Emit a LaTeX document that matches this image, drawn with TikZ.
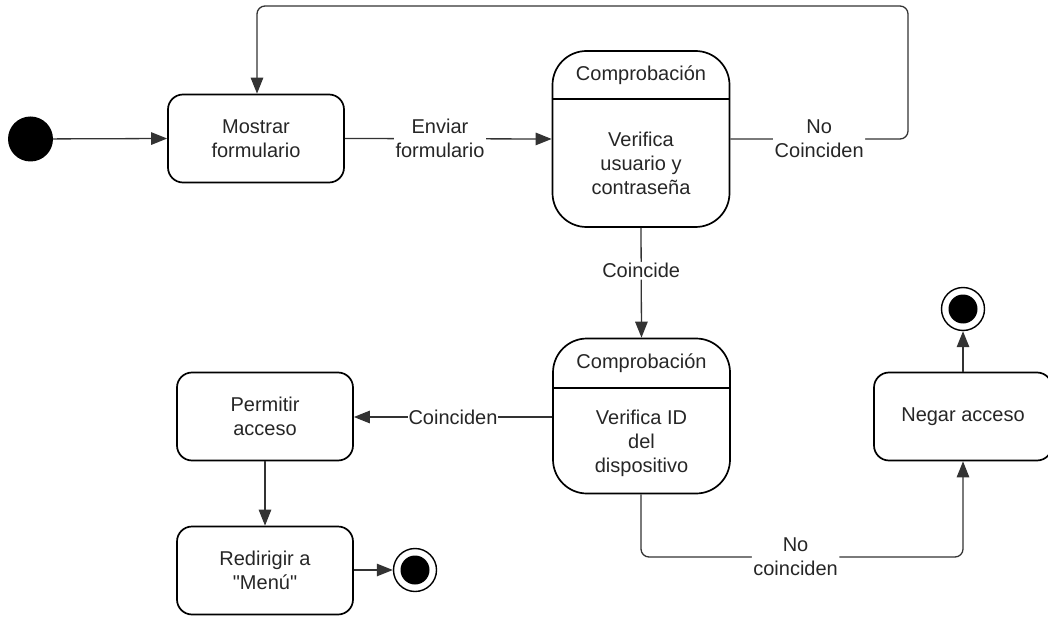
\documentclass[tikz,border=0pt]{standalone}
\usepackage{fontspec}
\setmainfont{Liberation Sans}
% plain family without TeX input mapping, so " stays a straight quote
\newfontfamily\diagfont{Liberation Sans}
\usetikzlibrary{arrows.meta}

\begin{document}
\begin{tikzpicture}[x=1pt,y=-1pt,
  txt/.style={font=\diagfont\fontsize{20}{24}\selectfont, text=black!85, align=center, inner sep=0pt},
  statebox/.style={draw=black, line width=1.7pt, rounded corners=15pt, minimum width=176pt, minimum height=88pt, txt},
  checkbox/.style={draw=black, line width=1.7pt, rounded corners=34pt, minimum width=177pt, inner sep=0pt},
  conn/.style={draw=black!80, line width=1.3pt, rounded corners=8pt, -{Triangle[length=16pt 0,width=12.5pt 0]}},
  lbl/.style={txt, fill=white, inner sep=1.5pt},
  startdot/.style={circle, fill=black, minimum size=45pt, inner sep=0pt},
  enddot/.style={circle, draw=black, line width=1.4pt, minimum size=43pt, inner sep=0pt,
    path picture={\fill[black] (path picture bounding box.center) circle (14.5pt);}}
]
\useasboundingbox (0,0) rectangle (1048,617);

% states
\node[startdot] (ini) at (30.5,139) {};
\node[statebox] (mostrar) at (256,138.5) {Mostrar\\formulario};

\node[checkbox, minimum height=176pt] (chk1) at (641,139) {};
\draw[black, line width=1.7pt] (chk1.west |- 0,99) -- (chk1.east |- 0,99);
\node[txt] (chk1t) at (641,75) {Comprobación};
\node[txt] (chk1b) at (641,163) {Verifica\\usuario y\\contraseña};

\node[checkbox, minimum height=155pt] (chk2) at (641.5,416) {};
\draw[black, line width=1.7pt] (chk2.west |- 0,388) -- (chk2.east |- 0,388);
\node[txt] (chk2t) at (641.5,363) {Comprobación};
\node[txt] (chk2b) at (641.5,443) {Verifica ID\\del\\dispositivo};

\node[statebox] (permitir) at (265,416.5) {Permitir\\acceso};
\node[statebox] (redirigir) at (265,570.5) {Redirigir a\\"Menú"};
\node[enddot] (fin1) at (415,570) {};

\node[statebox, minimum width=178pt] (negar) at (963,416.5) {Negar acceso};
\node[enddot] (fin2) at (963,309) {};

% route waypoints
\coordinate (loopA) at (908,6);
\coordinate (loopB) at (257,6);
\coordinate (downA) at (641,557);
\coordinate (downB) at (963,557);

% transitions
\draw[conn] (ini) -- (mostrar.west);
\draw[conn] (mostrar.east) -- node[lbl, pos=0.46] {Enviar\\formulario} (chk1.west);
\draw[conn] (chk1.east) -- node[lbl, pos=0.5] {No\\Coinciden} (chk1.east -| loopA) -- (loopA) -- (loopB) -- (loopB |- mostrar.north);
\draw[conn] (chk1.south) -- node[lbl, pos=0.39] {Coincide} (chk2.north);
\draw[conn] (chk2.west |- 0,417) -- node[lbl, inner sep=0.5pt, pos=0.5] {Coinciden} (permitir.east |- 0,417);
\draw[conn] (permitir.south) -- (redirigir.north);
\draw[conn] (redirigir.east |- fin1) -- (fin1);
\draw[conn] (chk2.south -| downA) -- (downA) -- node[lbl, pos=0.48] {No\\coinciden} (downB) -- (negar.south);
\draw[conn] (negar.north) -- (fin2);
\end{tikzpicture}
\end{document}
